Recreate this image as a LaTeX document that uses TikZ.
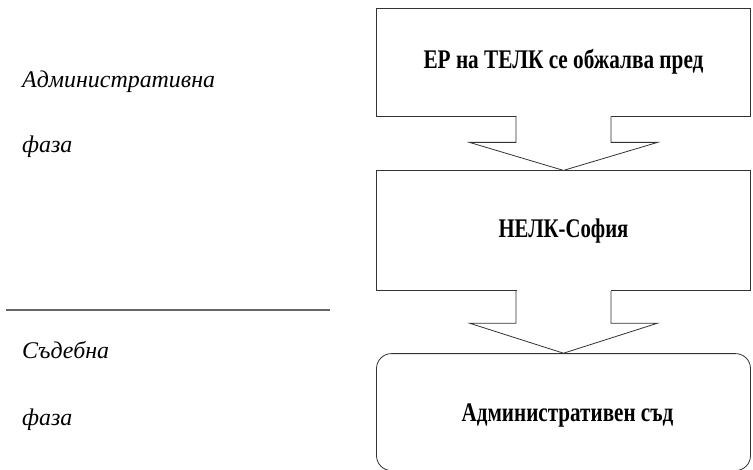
\documentclass[tikz,border=0pt]{standalone}
\usepackage{fontspec}
\setmainfont{Liberation Serif}
\usetikzlibrary{positioning,calc}

\tikzset{
  stepbox/.style={draw=black!80, line width=0.8bp, fill=white, minimum width=374bp,
    font=\bfseries\fontsize{27}{30}\selectfont, inner sep=0pt},
  phase/.style={anchor=west, inner sep=0pt, font=\itshape\fontsize{24}{28}\selectfont},
  blockarrow/.style={draw=black!80, line width=0.8bp, fill=white}
}
% open block arrow from the bottom of #1 to the top of #2, stem length #3
\newcommand{\stemarrow}[3]{
  \fill[white] ($(#1.south)+(-47,1)$) rectangle ($(#1.south)+(47,-1)$);
  \draw[blockarrow] ($(#1.south)+(-47.5,0)$) -- ++(0,-#3) -- ++(-46.5,0)
    -- (#2.north) -- ($(#1.south)+(94,-#3)$) -- ++(-46.5,0) -- ($(#1.south)+(47.5,0)$);
}

\begin{document}
\begin{tikzpicture}[x=1bp, y=1bp]
  \useasboundingbox (0,0) rectangle (753,-470);

  \node[stepbox, minimum height=108bp] (ep) at (563.5,-62) {\scalebox{0.79}[1]{ЕР на ТЕЛК се обжалва пред}};
  \node[stepbox, minimum height=120bp, below=54bp of ep] (nelk) {\scalebox{0.77}[1]{НЕЛК-София}};
  \node[stepbox, minimum height=117bp, rounded corners=15bp, below=62bp of nelk] (sad) {};
  \node[font=\bfseries\fontsize{27}{30}\selectfont, inner sep=0pt, xshift=4bp, yshift=-3bp] (sad-t) at (sad.center)
    {\scalebox{0.785}[1]{Административен съд}};

  \stemarrow{ep}{nelk}{26}
  \stemarrow{nelk}{sad}{32}

  \node[phase] (adm) at (22,-82) {Административна};
  \node[phase] (adm-f) at (22,-147) {фаза};
  \node[phase] (sad-p) at (22,-350) {Съдебна};
  \node[phase] (sad-f) at (22,-420) {фаза};

  \coordinate (sep-l) at (6,-310);
  \coordinate (sep-r) at (330,-310);
  \draw[black!60, line width=1.2bp] (sep-l) -- (sep-r);
\end{tikzpicture}
\end{document}
